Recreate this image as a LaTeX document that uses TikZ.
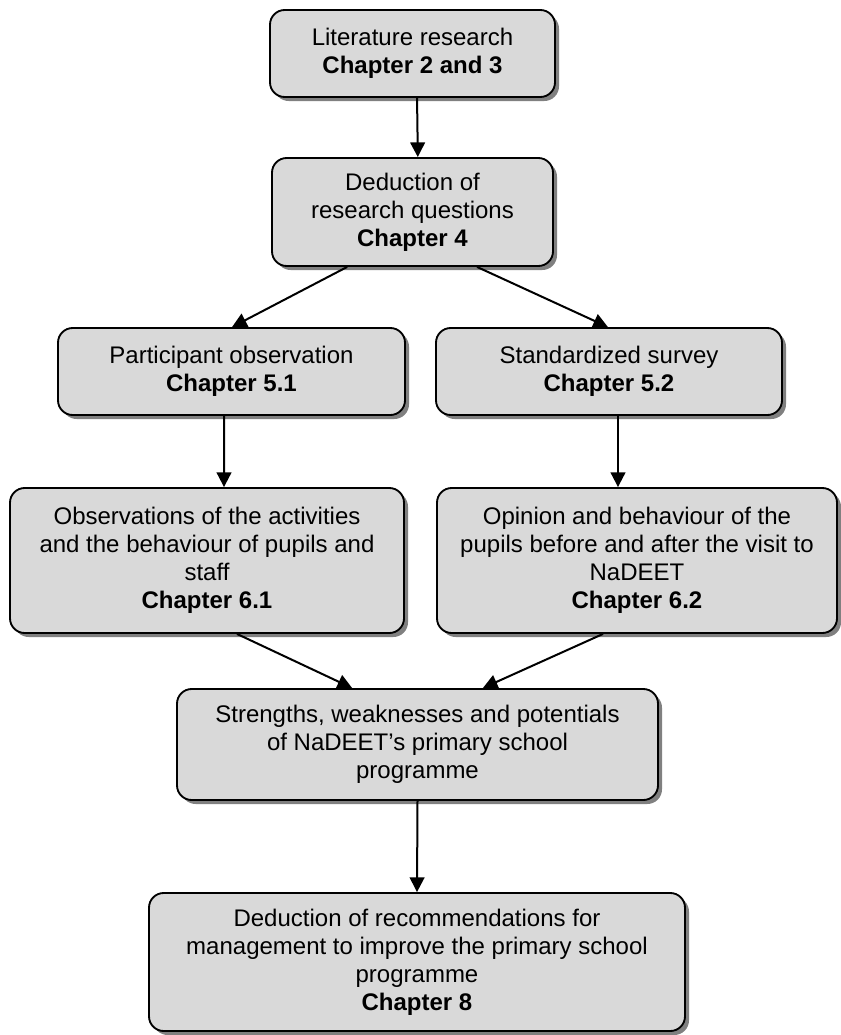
\documentclass[tikz,border=0pt]{standalone}
\usepackage{fontspec}
\setmainfont{Liberation Sans}
\usetikzlibrary{arrows.meta,shadows}

\tikzset{
  box/.style={draw=black, line width=1.4pt, fill=black!15, rounded corners=11pt,
    drop shadow={shadow xshift=3pt, shadow yshift=-3pt, fill=black!50, opacity=1},
    align=center, font=\fontsize{18}{21}\selectfont, inner sep=0pt},
  flow/.style={line width=1.5pt, -{Triangle[length=11pt,width=11pt]}}
}

\begin{document}
\begin{tikzpicture}[x=0.75pt, y=-0.75pt]
\useasboundingbox (0,0) rectangle (840,1035);

% boxes
\node[box, minimum width=213.75pt, minimum height=65.25pt] (b1) at (412.5,53.5)
  {Literature research\\\textbf{Chapter 2 and 3}};
\node[box, minimum width=210.75pt, minimum height=81pt] (b2) at (412.5,212)
  {Deduction of\\research questions\\\textbf{Chapter 4}};
\node[box, minimum width=260.25pt, minimum height=65.25pt] (b3) at (231.5,371.5)
  {Participant observation\\\textbf{Chapter 5.1}};
\node[box, minimum width=259.5pt, minimum height=65.25pt] (b4) at (609,371.5)
  {Standardized survey\\\textbf{Chapter 5.2}};
\node[box, minimum width=295.5pt, minimum height=108.75pt] (b5) at (207,560.5)
  {Observations of the activities\\and the behaviour of pupils and\\staff\\\textbf{Chapter 6.1}};
\node[box, minimum width=300pt, minimum height=108.75pt] (b6) at (637,560.5)
  {Opinion and behaviour of the\\pupils before and after the visit to\\NaDEET\\\textbf{Chapter 6.2}};
\node[box, minimum width=360.75pt, minimum height=83.25pt] (b7) at (417.5,744.5)
  {Strengths, weaknesses and potentials\\of NaDEET’s primary school\\programme};
\node[box, minimum width=402pt, minimum height=103.5pt] (b8) at (417,962)
  {Deduction of recommendations for\\management to improve the primary school\\programme\\\textbf{Chapter 8}};

% connectors
\draw[flow] ([xshift=3.4pt]b1.south) -- ([xshift=4pt]b2.north);
\draw[flow] ([xshift=-49pt]b2.south) -- ([xshift=0.4pt]b3.north);
\draw[flow] ([xshift=48.4pt]b2.south) -- ([xshift=-0.8pt]b4.north);
\draw[flow] ([xshift=-5.6pt]b3.south) -- ([xshift=12.75pt]b5.north);
\draw[flow] ([xshift=6.75pt]b4.south) -- ([xshift=-14.25pt]b6.north);
\draw[flow] ([xshift=22.5pt]b5.south) -- ([xshift=-49pt]b7.north);
\draw[flow] ([xshift=-25.5pt]b6.south) -- ([xshift=49pt]b7.north);
\draw[flow] (b7.south) -- (b8.north);
\end{tikzpicture}
\end{document}
